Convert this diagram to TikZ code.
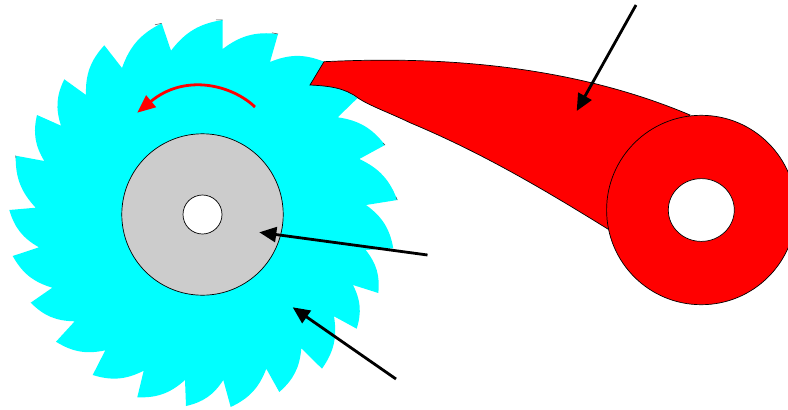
\documentclass[tikz,border=0pt]{standalone}
\usetikzlibrary{arrows.meta}
\definecolor{gearcyan}{RGB}{0,255,255}
\definecolor{diskgray}{RGB}{204,204,204}
\tikzset{
  outline/.style={draw=black,line width=0.7pt},
  pointer/.style={draw=black,line width=2.8pt,-{Triangle[length=17pt,width=15pt]},shorten >=0pt},
  turn/.style={draw=red,line width=2.8pt,-{Triangle[length=18pt,width=15pt]}},
  tick/.style={draw=black!70,line width=0.5pt},
  tb/.style={bend right=22}
}
\begin{document}
\begin{tikzpicture}[x=1pt,y=-1pt]
\useasboundingbox (0,0) rectangle (788,410);
\clip (0,0) rectangle (788,410);
% saw blade
\fill[gearcyan] (161.7,23.3) to[tb] (122,68) -- (104.3,45.3) to[tb] (86,95) -- (64.3,79.3)
  to[tb] (61,125.7) -- (37,115) to[tb] (44.3,161) -- (15.7,155.7) to[tb] (35.7,207.7)
  -- (9.3,210) to[tb] (39,247.3) -- (12.7,256) to[tb] (52.3,287.7) -- (30.7,302.7)
  to[tb] (74.7,321.3) -- (56,341.7) to[tb] (105.3,350.3) -- (92.7,375) to[tb] (143.7,370.7)
  -- (137.3,397.3) to[tb] (185,380) -- (186,406) to[tb] (223.3,380) -- (230.7,407)
  to[tb] (266.3,368.7) -- (279.3,392) to[tb] (301.3,348.3) -- (322,368.7) to[tb] (334,316.3)
  -- (356.7,328.7) to[tb] (353,285) -- (378.3,293) to[tb] (365.7,250) -- (393.3,248.3)
  to[tb] (366,205) -- (397.3,200) to[tb] (359.3,159) -- (385,145) to[tb] (337.7,117.3)
  -- (357.3,98.3) to[tb] (310,85) -- (324,61.7) to[tb] (270,62) -- (278,34) to[tb] (222.7,49)
  -- (222.7,20) to[tb] (171,50.7) -- cycle;
% small dark slivers at the tooth tips
\draw[tick] (155,24.8) -- (161.7,23.3);
\draw[tick] (216,19.8) -- (222.7,20);
\draw[tick] (272,32.8) -- (278,34);
\draw[tick] (383,143) -- (385,145);
\draw[tick] (396,197) -- (397.3,200);
\draw[tick] (15.7,155.7) -- (16,158);
% hub
\filldraw[outline,fill=diskgray] (202.5,214.5) circle [radius=80.7];
\filldraw[outline,fill=white] (202.5,214.5) circle [radius=19.5];
% arm
\filldraw[outline,fill=red] (310,85) -- (324,61.7)
  .. controls (420,57) and (560,60) .. (690,115)
  -- (640,160) -- (608.3,229.3)
  .. controls (540,187) and (480,152) .. (410,122.7)
  .. controls (390,113) and (370,106) .. (358,98)
  .. controls (345,88) and (330,86) .. (310,85) -- cycle;
\fill[red] (640,130) -- (690,116) -- (690,200) -- (610,228) -- cycle;
% roller
\filldraw[outline,fill=red] (701.3,210) circle [radius=94.7];
\filldraw[outline,fill=white] (701.3,210) ellipse [x radius=33,y radius=31.4];
% rotation arrow
\coordinate (rs) at (255,107);
\coordinate (re) at (137.3,112.7);
\draw[turn] (rs) .. controls (232,85) and (185,73) .. (re);
% pointers
\coordinate (a1s) at (636,5);
\coordinate (a1e) at (576.7,111);
\coordinate (a2s) at (427.5,255);
\coordinate (a2e) at (259.3,232.3);
\coordinate (a3s) at (396,379);
\coordinate (a3e) at (292.7,307.3);
\draw[pointer] (a1s) -- (a1e);
\draw[pointer] (a2s) -- (a2e);
\draw[pointer] (a3s) -- (a3e);
\end{tikzpicture}
\end{document}
